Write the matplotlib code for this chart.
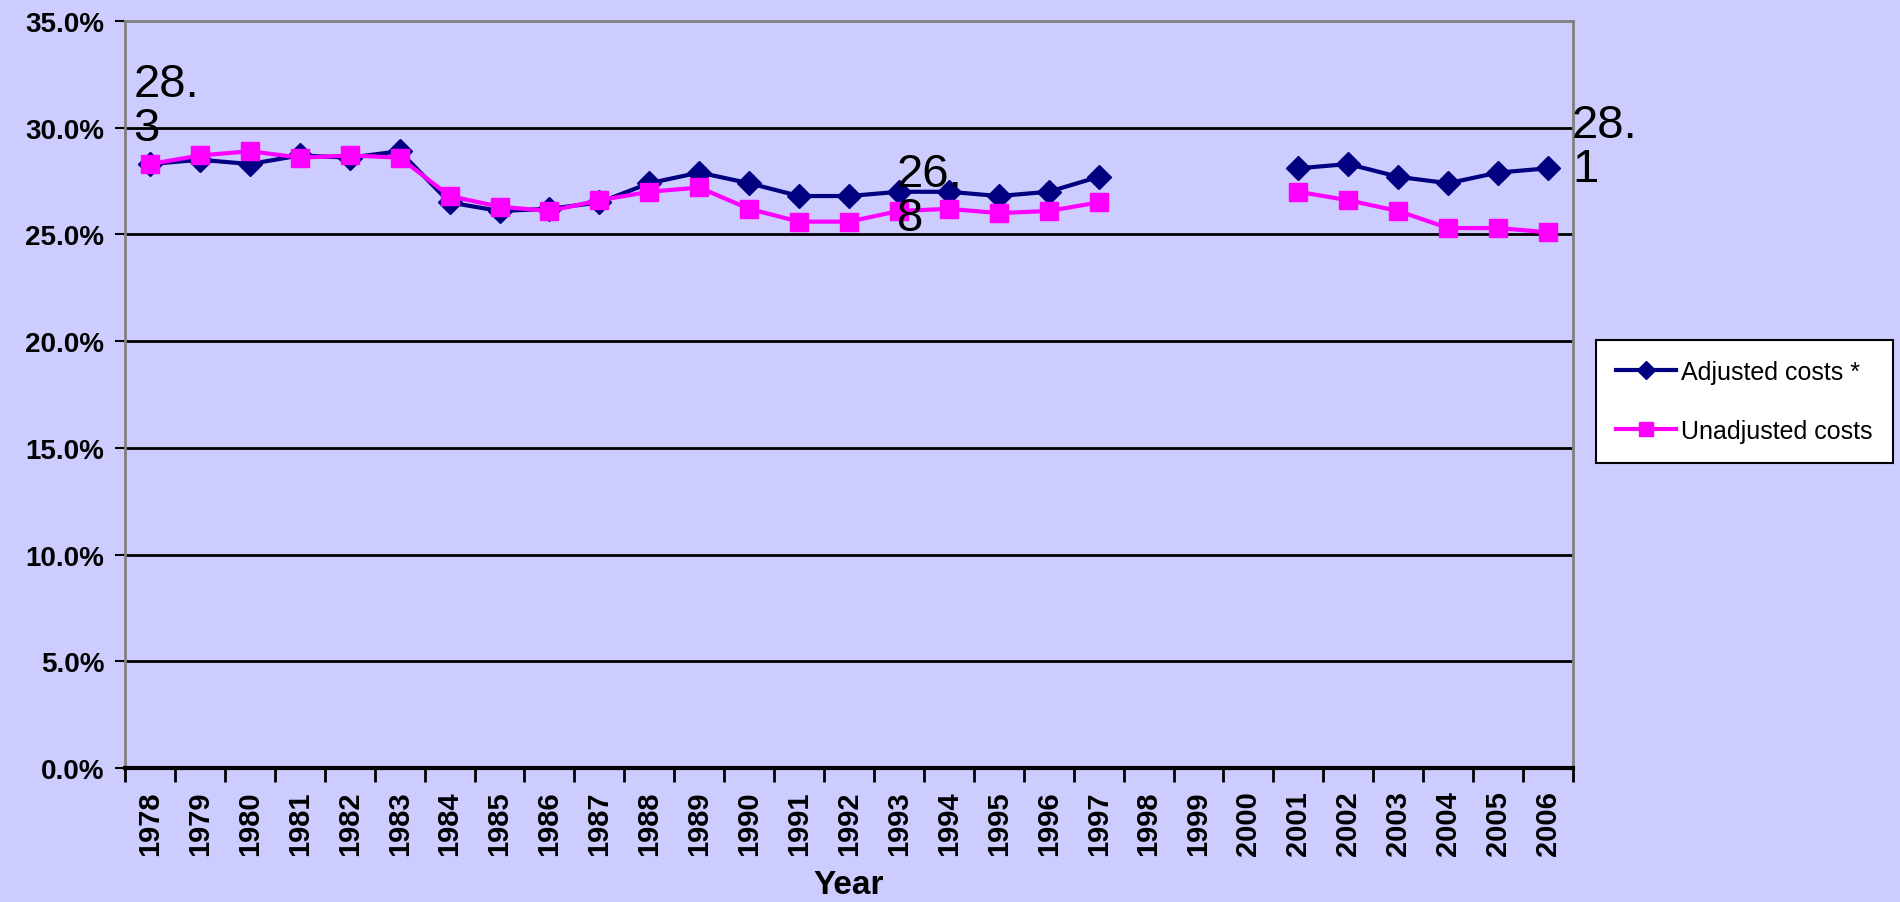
import numpy as np
import matplotlib
matplotlib.use("Agg")
import matplotlib.pyplot as plt
from matplotlib.ticker import FuncFormatter, FixedLocator

plt.rcParams['font.family'] = ['Liberation Sans', 'DejaVu Sans']

# data (percent); 1998-2000 have no values
years = [str(y) for y in range(1978, 2007)]
adjusted = [28.3, 28.5, 28.3, 28.7, 28.6, 28.9, 26.5, 26.1, 26.2, 26.5,
            27.4, 27.9, 27.4, 26.8, 26.8, 27.0, 27.0, 26.8, 27.0, 27.7,
            np.nan, np.nan, np.nan,
            28.1, 28.3, 27.7, 27.4, 27.9, 28.1]
unadjusted = [28.3, 28.7, 28.9, 28.6, 28.7, 28.6, 26.8, 26.3, 26.1, 26.6,
              27.0, 27.2, 26.2, 25.6, 25.6, 26.1, 26.2, 26.0, 26.1, 26.5,
              np.nan, np.nan, np.nan,
              27.0, 26.6, 26.1, 25.3, 25.3, 25.1]
series_names = ["Adjusted costs *", "Unadjusted costs"]
# stray data labels as they appear on the chart
label_texts = ["28.\n3", "26.\n8", "28.\n1"]
label_x = [-0.33, 14.96, 28.48]
label_y = [31.0, 26.8, 29.1]

bg = "#CCCCFF"
fig = plt.figure(figsize=(19, 9.03), dpi=100, facecolor=bg)
ax = fig.add_axes([0.0658, 0.1484, 0.7621, 0.8272], facecolor=bg)

x = np.arange(len(years))
ax.plot(x, adjusted, color="#000080", lw=3, marker="D", markersize=12,
        label=series_names[0], zorder=3)
ax.plot(x, unadjusted, color="#FF00FF", lw=3, marker="s", markersize=13,
        label=series_names[1], zorder=4)

for t, tx, ty in zip(label_texts, label_x, label_y):
    ax.text(tx, ty, t, fontsize=34, ha="left", va="center", linespacing=1.0,
            zorder=5, clip_on=False)

ax.set_xlim(-0.5, len(years) - 0.5)
ax.set_ylim(0, 35)

# gridlines
for g in range(5, 35, 5):
    ax.axhline(g, color="black", lw=2, zorder=1)

ax.set_yticks(range(0, 40, 5))
ax.yaxis.set_major_formatter(FuncFormatter(lambda v, p: f"{v:.1f}%"))
ax.tick_params(axis="y", direction="out", length=7, width=1.5, pad=8,
               labelsize=20)
for lab in ax.get_yticklabels():
    lab.set_fontweight("bold")

ax.set_xticks(x)
ax.set_xticklabels(years, rotation=90, fontsize=21, fontweight="bold")
ax.tick_params(axis="x", length=0, pad=16)
ax.xaxis.set_minor_locator(FixedLocator(np.arange(-0.5, len(years), 1.0)))
ax.tick_params(axis="x", which="minor", direction="out", length=10, width=2)
ax.set_xlabel("Year", fontsize=24, fontweight="bold", labelpad=10)

for s in ["top", "left", "right"]:
    ax.spines[s].set_color("#808080")
    ax.spines[s].set_linewidth(2)
ax.spines["bottom"].set_color("black")
ax.spines["bottom"].set_linewidth(3)

leg = fig.legend(loc="upper left", bbox_to_anchor=(0.8335, 0.636),
                 fontsize=18, frameon=True, fancybox=False, edgecolor="black",
                 facecolor="white", framealpha=1, labelspacing=1.4,
                 handlelength=2.4, handletextpad=0.2, borderpad=0.8,
                 markerscale=0.75)
leg.get_frame().set_linewidth(1.5)

fig.savefig("out.png", dpi=100, facecolor=bg)
